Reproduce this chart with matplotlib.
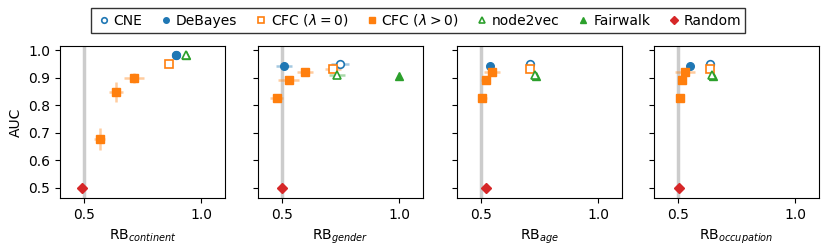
import matplotlib
matplotlib.use("Agg")
import matplotlib.pyplot as plt
from matplotlib.lines import Line2D

attributes = ["continent", "gender", "age", "occupation"]
methods = ["CNE", "DeBayes", "CFC ($\\lambda=0$)", "CFC ($\\lambda>0$)", "node2vec", "Fairwalk", "Random"]

cne_rb = [0.89, 0.749, 0.708, 0.638]
cne_auc = [0.982, 0.949, 0.949, 0.949]
cne_rberr = [0.0, 0.039, 0.005, 0.005]

debayes_rb = [0.892, 0.51, 0.538, 0.551]
debayes_auc = [0.982, 0.943, 0.943, 0.943]
debayes_rberr = [0.0, 0.033, 0.012, 0.008]

cfc0_rb = [0.864, 0.718, 0.708, 0.638]
cfc0_auc = [0.951, 0.932, 0.932, 0.932]
cfc0_rberr = [0.0, 0.035, 0.005, 0.015]

cfc_rb = [[0.568, 0.6375, 0.715], [0.48, 0.53, 0.60], [0.507, 0.521, 0.549], [0.509, 0.52, 0.531]]
cfc_auc = [[0.676, 0.848, 0.90], [0.8255, 0.89, 0.921], [0.8255, 0.89, 0.921], [0.8255, 0.89, 0.921]]
cfc_rberr = [[0.025, 0.03, 0.042], [0.028, 0.044, 0.035], [0.02, 0.02, 0.035], [0.015, 0.012, 0.042]]
cfc_aucerr = [[0.04, 0.036, 0.018], [0.004, 0.004, 0.004], [0.004, 0.004, 0.004], [0.004, 0.004, 0.004]]

n2v_rb = [0.933, 0.737, 0.729, 0.648]
n2v_auc = [0.982, 0.909, 0.909, 0.909]
n2v_rberr = [0.0, 0.034, 0.005, 0.005]

fw_rb = [0.933, 1.0, 0.737, 0.651]
fw_auc = [0.982, 0.907, 0.907, 0.907]

rand_rb = [0.495, 0.5, 0.521, 0.508]
rand_auc = [0.5, 0.5, 0.5, 0.5]

blue, orange, green, red = "#1f77b4", "#ff7f0e", "#2ca02c", "#d62728"
blue_a = (0.12, 0.47, 0.71, 0.4)
orange_a = (1.0, 0.5, 0.05, 0.4)
green_a = (0.17, 0.63, 0.17, 0.4)

fig = plt.figure(figsize=(8.3, 2.52), dpi=100)
lefts = [60, 258, 457, 654]
ms = 5.5
for i, att in enumerate(attributes):
    ax = fig.add_axes([lefts[i] / 830, 1 - 198 / 252, 165 / 830, 152 / 252])
    ax.axvline(0.5, color="#cccccc", lw=2.5, zorder=0)
    ekw = dict(elinewidth=1.8, capsize=0, ls="none")
    ax.errorbar(cne_rb[i], cne_auc[i], xerr=cne_rberr[i], marker="o", ms=ms, mfc="white", mec=blue, mew=1.2,
                ecolor=blue_a, **ekw)
    ax.errorbar(debayes_rb[i], debayes_auc[i], xerr=debayes_rberr[i], marker="o", ms=ms, color=blue,
                ecolor=blue_a, **ekw)
    ax.errorbar(cfc0_rb[i], cfc0_auc[i], xerr=cfc0_rberr[i], marker="s", ms=ms, mfc="white", mec=orange, mew=1.2,
                ecolor=orange_a, **ekw)
    ax.errorbar(cfc_rb[i], cfc_auc[i], xerr=cfc_rberr[i], yerr=cfc_aucerr[i], marker="s", ms=ms, color=orange,
                ecolor=orange_a, **ekw)
    ax.errorbar(n2v_rb[i], n2v_auc[i], xerr=n2v_rberr[i], marker="^", ms=ms, mfc="white", mec=green, mew=1.2,
                ecolor=green_a, **ekw)
    ax.plot(fw_rb[i], fw_auc[i], marker="^", ms=ms, color=green, ls="none")
    ax.plot(rand_rb[i], rand_auc[i], marker="D", ms=ms, color=red, ls="none")
    ax.set_xlim(0.4, 1.1)
    ax.set_ylim(0.462, 1.015)
    ax.set_xticks([0.5, 1.0])
    ax.set_yticks([0.5, 0.6, 0.7, 0.8, 0.9, 1.0])
    ax.tick_params(labelsize=10)
    ax.set_xlabel("RB$_{%s}$" % att, fontsize=10)
    if i == 0:
        ax.set_ylabel("AUC", fontsize=10)
    else:
        ax.set_yticklabels([])

leg_handles = [
    Line2D([], [], marker="o", ls="none", mfc="white", mec=blue, mew=1.2, ms=4),
    Line2D([], [], marker="o", ls="none", color=blue, ms=4),
    Line2D([], [], marker="s", ls="none", mfc="white", mec=orange, mew=1.2, ms=4),
    Line2D([], [], marker="s", ls="none", color=orange, ms=4),
    Line2D([], [], marker="^", ls="none", mfc="white", mec=green, mew=1.2, ms=4),
    Line2D([], [], marker="^", ls="none", color=green, ms=4),
    Line2D([], [], marker="D", ls="none", color=red, ms=4),
]
leg = fig.legend(leg_handles, methods, loc="center", bbox_to_anchor=(0.504, 0.919), ncol=7, fontsize=10,
                 frameon=True, fancybox=False, edgecolor="black", handletextpad=0.1, columnspacing=1.1,
                 handlelength=1.2, borderpad=0.3)
leg.get_frame().set_linewidth(1.0)

fig.savefig("out.png", dpi=100)
